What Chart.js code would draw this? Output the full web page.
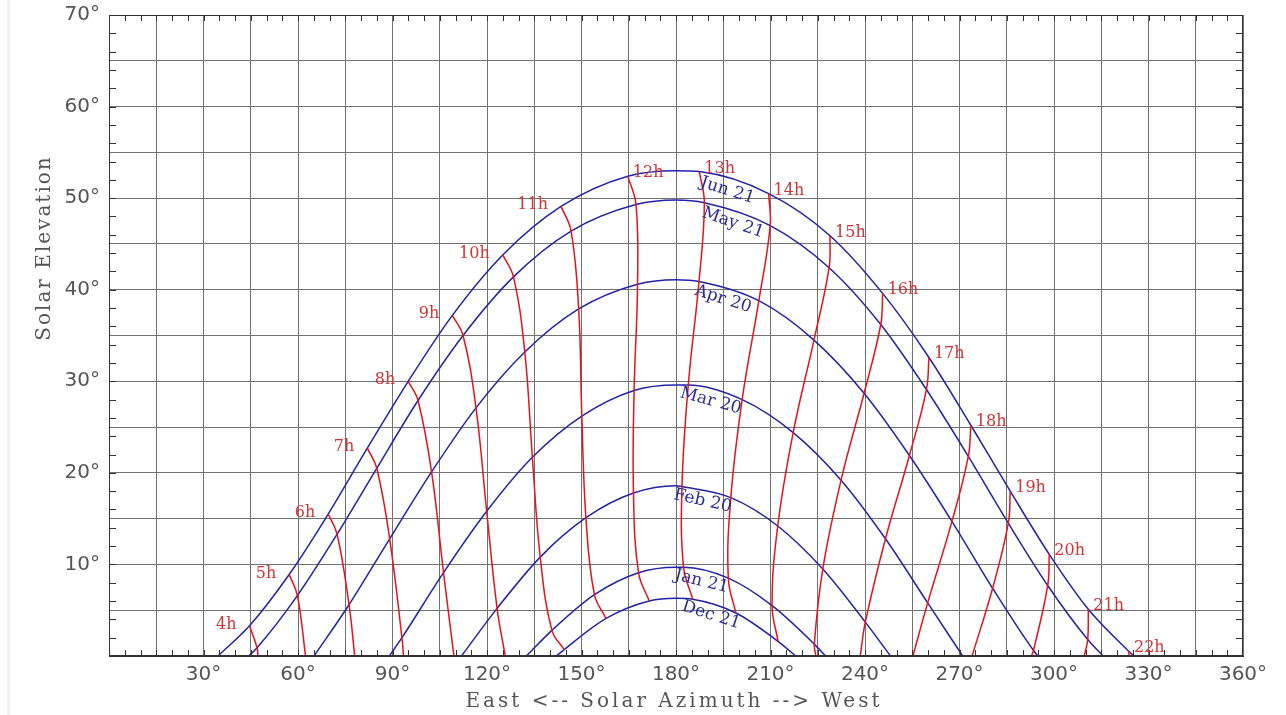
<!DOCTYPE html>
<html lang="en">
<head>
  <meta charset="UTF-8">
  <title>Sun path diagram</title>
  <script src="https://cdn.jsdelivr.net/npm/chart.js"></script>
  <style>
    html, body { margin: 0; padding: 0; background: #fff; }
    #wrap { width: 1286px; height: 715px; }
  </style>
</head>
<body>
  <div id="wrap"><canvas id="sunChart" width="1286" height="715"></canvas></div>

  <script>
    // clock hours of the red lines
    const hours = [4, 5, 6, 7, 8, 9, 10, 11, 12, 13, 14, 15, 16, 17, 18, 19, 20, 21, 22];
    const dateNames = ['Jun 21', 'May 21', 'Apr 20', 'Mar 20', 'Feb 20', 'Jan 21', 'Dec 21'];

    // sun azimuth / elevation (deg) at each clock hour, null = sun below horizon
    const azJun21 = [44.6, 57.2, 69.6, 82.0, 95.0, 109.0, 125.0, 143.5, 164.7, 187.4, 209.4, 228.9, 245.6, 260.3, 273.6, 286.1, 298.5, 310.9, 323.8];
    const elJun21 = [3.3, 8.9, 15.5, 22.7, 30.0, 37.2, 43.8, 49.1, 52.4, 52.9, 50.5, 45.9, 39.6, 32.6, 25.2, 18.0, 11.1, 5.1, 0.5];

    const azMay21 = [47.0, 59.8, 72.4, 85.0, 98.1, 112.4, 128.4, 146.7, 167.3, 189.0, 209.9, 228.6, 245.0, 259.5, 272.8, 285.5, 298.0, 310.7, null];
    const elMay21 = [0.9, 6.6, 13.3, 20.5, 27.9, 35.0, 41.4, 46.4, 49.3, 49.5, 47.0, 42.4, 36.2, 29.1, 21.8, 14.5, 7.7, 1.8, null];

    const azApr20 = [null, null, 76.2, 89.1, 102.4, 116.5, 132.0, 149.1, 167.8, 187.3, 206.3, 223.8, 239.7, 254.1, 267.6, 280.5, 293.5, null, null];
    const elApr20 = [null, null, 5.6, 12.8, 20.1, 27.1, 33.2, 37.9, 40.6, 40.9, 38.8, 34.5, 28.7, 21.9, 14.7, 7.4, 0.6, null, null];

    const azMar20 = [null, null, null, 93.0, 106.2, 119.9, 134.4, 150.1, 166.7, 183.9, 201.0, 217.2, 232.4, 246.5, 259.9, null, null, null, null];
    const elMar20 = [null, null, null, 2.0, 9.1, 15.8, 21.7, 26.2, 29.0, 29.6, 28.0, 24.4, 19.2, 12.8, 5.8, null, null, null, null];

    const azFeb20 = [null, null, null, null, null, 123.2, 136.9, 151.4, 166.5, 181.9, 197.4, 212.3, 226.6, 240.1, null, null, null, null, null];
    const elFeb20 = [null, null, null, null, null, 5.2, 10.8, 15.1, 17.8, 18.5, 17.3, 14.2, 9.5, 3.7, null, null, null, null, null];

    const azJan21 = [null, null, null, null, null, null, 140.6, 154.1, 168.1, 182.4, 196.6, 210.5, 223.9, null, null, null, null, null, null];
    const elJan21 = [null, null, null, null, null, null, 2.8, 6.7, 9.1, 9.7, 8.5, 5.5, 1.3, null, null, null, null, null, null];

    const azDec21 = [null, null, null, null, null, null, 144.5, 157.8, 171.5, 185.3, 199.0, 212.4, null, null, null, null, null, null, null];
    const elDec21 = [null, null, null, null, null, null, 0.7, 4.1, 6.0, 6.2, 4.7, 1.6, null, null, null, null, null, null, null];

    // sunrise / sunset azimuth and noon elevation per date
    const riseAz = [34.6, 44.4, 65.1, 89.0, 111.9, 132.5, 142.0];
    const setAz = [325.4, 315.6, 294.9, 271.0, 248.1, 227.5, 218.0];
    const noonEl = [53.0, 49.8, 41.1, 29.6, 18.6, 9.7, 6.3];

    // azimuth where an hour line runs into the horizon (null = ends on Dec 21)
    const hourEndAz = [47.3, 62.4, 78.0, 93.5, 109.5, 125.8, null, null, null, null, null, null, 224.4, 238.5, 255.2, 274.0, 292.8, 309.6, 323.8];

    const sunAz = [azJun21, azMay21, azApr20, azMar20, azFeb20, azJan21, azDec21];
    const sunEl = [elJun21, elMay21, elApr20, elMar20, elFeb20, elJan21, elDec21];

    // styling
    const blue = '#2222aa';
    const red = '#e3141c';
    const gridGrey = '#727272';
    const dateLabelShift = [4.7, 1.6, -0.7, -5.5, -6.1, -6.6, -7.7];

    // date curves (blue)
    const dateSets = dateNames.map((name, i) => {
      const pts = [{ x: riseAz[i], y: 0 }, { x: 180, y: noonEl[i] }, { x: setAz[i], y: 0 }];
      hours.forEach((h, j) => {
        if (sunAz[i][j] !== null) pts.push({ x: sunAz[i][j], y: sunEl[i][j] });
      });
      pts.sort((a, b) => a.x - b.x);
      return {
        label: name,
        data: pts,
        showLine: true,
        borderColor: blue,
        borderWidth: 1.5,
        pointRadius: 0,
        cubicInterpolationMode: 'monotone'
      };
    });

    // hour lines (red)
    const hourSets = hours.map((h, j) => {
      const pts = [];
      sunAz.forEach((az, i) => {
        if (az[j] !== null) pts.push({ x: az[j], y: sunEl[i][j] });
      });
      if (hourEndAz[j] !== null) pts.push({ x: hourEndAz[j], y: 0 });
      return {
        label: h + 'h',
        data: pts,
        showLine: true,
        borderColor: red,
        borderWidth: 1.5,
        pointRadius: 0,
        tension: 0.4
      };
    });

    const decor = {
      id: 'decor',
      beforeDraw(chart) {
        const ctx = chart.ctx;
        ctx.save();
        ctx.fillStyle = '#fff';
        ctx.fillRect(0, 0, chart.width, chart.height);
        ctx.fillStyle = '#f3f3f3';
        ctx.fillRect(7, 0, 3, chart.height);
        ctx.restore();
      },
      afterDraw(chart) {
        const { ctx, chartArea: a, scales: { x, y } } = chart;
        ctx.save();

        // frame + small inner ticks
        ctx.strokeStyle = '#333';
        ctx.lineWidth = 1;
        ctx.strokeRect(a.left + 0.5, a.top + 0.5, a.right - a.left - 1, a.bottom - a.top - 1);
        ctx.beginPath();
        for (let v = 2; v < 70; v += 2) {
          const py = Math.round(y.getPixelForValue(v)) + 0.5;
          ctx.moveTo(a.left, py); ctx.lineTo(a.left + 7, py);
          ctx.moveTo(a.right, py); ctx.lineTo(a.right - 7, py);
        }
        for (let v = 5; v < 360; v += 5) {
          const px = Math.round(x.getPixelForValue(v)) + 0.5;
          ctx.moveTo(px, a.bottom); ctx.lineTo(px, a.bottom - 6);
          ctx.moveTo(px, a.top); ctx.lineTo(px, a.top + 6);
        }
        ctx.stroke();

        // hour labels at the Jun 21 end of each red line
        ctx.font = '16px "DejaVu Serif"';
        ctx.fillStyle = '#d23434';
        ctx.textBaseline = 'alphabetic';
        hours.forEach((h, j) => {
          const px = x.getPixelForValue(azJun21[j]);
          const py = y.getPixelForValue(elJun21[j]);
          if (h < 12) {
            ctx.textAlign = 'right';
            ctx.fillText(h + 'h', px - 13, py + 3);
          } else {
            ctx.textAlign = 'left';
            ctx.fillText(h + 'h', px + 5, py + 1);
          }
        });

        // date labels, laid along the curve after the 13h point
        const k = hours.indexOf(13);
        ctx.font = '17px "DejaVu Serif"';
        ctx.fillStyle = '#2c2c96';
        ctx.textAlign = 'left';
        dateNames.forEach((name, i) => {
          const x0 = x.getPixelForValue(sunAz[i][k]), y0 = y.getPixelForValue(sunEl[i][k]);
          const x1 = x.getPixelForValue(sunAz[i][k + 1]), y1 = y.getPixelForValue(sunEl[i][k + 1]);
          ctx.save();
          ctx.translate(x0, y0);
          ctx.rotate(Math.atan2(y1 - y0, x1 - x0));
          ctx.fillText(name, dateLabelShift[i], 14);
          ctx.restore();
        });

        // axis titles
        ctx.fillStyle = '#555';
        ctx.font = '20px "DejaVu Serif"';
        ctx.textAlign = 'center';
        ctx.letterSpacing = '3px';
        ctx.fillText('East <-- Solar Azimuth --> West', 674, 707);
        ctx.letterSpacing = '2px';
        ctx.translate(50, 248);
        ctx.rotate(-Math.PI / 2);
        ctx.fillText('Solar Elevation', 0, 0);
        ctx.restore();
      }
    };

    new Chart(document.getElementById('sunChart'), {
      type: 'scatter',
      data: { datasets: [...hourSets, ...dateSets] },
      options: {
        responsive: false,
        animation: false,
        devicePixelRatio: 1,
        layout: { padding: { left: 0, top: 15, right: 43, bottom: 0 } },
        plugins: { legend: { display: false }, tooltip: { enabled: false } },
        scales: {
          x: {
            type: 'linear',
            min: 0,
            max: 360,
            ticks: {
              stepSize: 15,
              autoSkip: false,
              maxRotation: 0,
              padding: 7,
              color: '#555',
              font: { family: 'DejaVu Sans', size: 20 },
              callback: v => (v % 30 === 0 && v > 0) ? v + '°' : ''
            },
            grid: { color: gridGrey, lineWidth: 1, drawTicks: false },
            border: { color: '#333', width: 1 },
            afterFit: s => { s.height = 59; s.paddingLeft = 0; s.paddingRight = 0; }
          },
          y: {
            type: 'linear',
            min: 0,
            max: 70,
            ticks: {
              stepSize: 5,
              autoSkip: false,
              padding: 9,
              color: '#555',
              font: { family: 'DejaVu Sans', size: 20 },
              callback: v => (v % 10 === 0 && v > 0) ? v + '°' : ''
            },
            grid: { color: gridGrey, lineWidth: 1, drawTicks: false },
            border: { color: '#333', width: 1 },
            afterFit: s => { s.width = 109; s.paddingTop = 0; s.paddingBottom = 0; }
          }
        }
      },
      plugins: [decor]
    });
  </script>
</body>
</html>
